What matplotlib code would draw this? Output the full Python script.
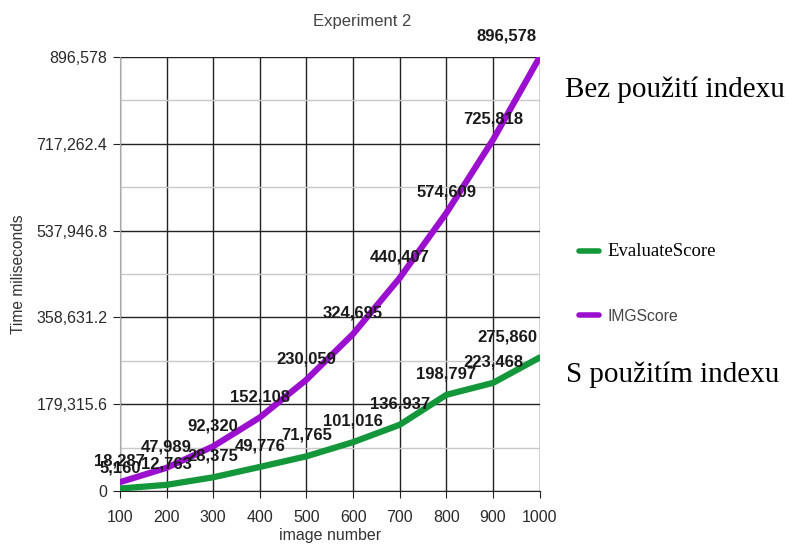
import numpy as np
import matplotlib.pyplot as plt
from matplotlib.ticker import MultipleLocator

plt.rcParams['font.family'] = ['Liberation Sans', 'DejaVu Sans']

# data
image_number = [100, 200, 300, 400, 500, 600, 700, 800, 900, 1000]
evaluate_score = [5160, 12763, 28375, 49776, 71765, 101016, 136937, 198797, 223468, 275860]
img_score = [18287, 47989, 92320, 152108, 230059, 324695, 440407, 574609, 725818, 896578]
y_max = 896578
y_ticks = [0, 179315.6, 358631.2, 537946.8, 717262.4, 896578]
y_tick_labels = ['0', '179,315.6', '358,631.2', '537,946.8', '717,262.4', '896,578']

green = '#13973a'
purple = '#9b0fcf'

fig = plt.figure(figsize=(7.89, 5.49), dpi=100)
ax = fig.add_axes([0.152, 0.1056, 0.532, 0.7904])

l_eval, = ax.plot(image_number, evaluate_score, color=green, lw=4.5,
                  solid_capstyle='round', zorder=3)
l_img, = ax.plot(image_number, img_score, color=purple, lw=4.5,
                 solid_capstyle='round', zorder=3)

ax.set_xlim(100, 1000)
ax.set_ylim(0, y_max)
ax.set_xticks(image_number)
ax.set_yticks(y_ticks)
ax.set_yticklabels(y_tick_labels)
ax.yaxis.set_minor_locator(MultipleLocator(y_max / 10))
ax.tick_params(axis='both', labelsize=11.5, labelcolor='#2a2a2a', length=5,
               color='#222222')
ax.tick_params(axis='x', pad=9)
ax.tick_params(axis='y', pad=4)
ax.tick_params(axis='y', which='minor', length=0)
ax.grid(True, which='major', color='#222222', lw=1.0)
ax.grid(True, which='minor', axis='y', color='#c8c8c8', lw=1.0)
for side in ['top', 'right']:
    ax.spines[side].set_visible(False)
ax.spines['left'].set_color('#aaaaaa')
ax.spines['bottom'].set_color('#222222')

# value labels
for series in [evaluate_score, img_score]:
    for x, y in zip(image_number, series):
        ha = 'right' if x == 1000 else 'center'
        dx = -2 if x == 1000 else 0
        ax.annotate(f'{y:,}', (x, y), xytext=(dx, 15), textcoords='offset points',
                    ha=ha, va='center', fontsize=12, fontweight='bold',
                    color='#1a1a1a', annotation_clip=False, zorder=4)

fig.text(0.459, 0.960, 'Experiment 2', fontsize=12, color='#444444',
         ha='center', va='center')
ax.set_xlabel('image number', fontsize=11.5, color='#333333', labelpad=2)
ax.set_ylabel('Time miliseconds', fontsize=11.2, color='#333333', labelpad=7)

# legend
leg = fig.legend([l_eval, l_img], ['EvaluateScore', 'IMGScore'],
                 loc='upper left', bbox_to_anchor=(0.715, 0.584),
                 frameon=False, handlelength=1.2, handletextpad=0.5,
                 labelspacing=2.9, fontsize=12)
for line in leg.get_lines():
    line.set_linewidth(4)
    line.set_solid_capstyle('round')
leg.get_texts()[0].set_fontfamily('Liberation Serif')
leg.get_texts()[0].set_fontsize(13.5)
leg.get_texts()[1].set_fontsize(11.3)
leg.get_texts()[1].set_color('#444444')

fig.text(0.716, 0.836, 'Bez použití indexu', fontsize=21,
         family='Liberation Serif', va='center')
fig.text(0.717, 0.317, 'S použitím indexu', fontsize=21,
         family='Liberation Serif', va='center')

fig.savefig('out.png', dpi=100, facecolor='white')
